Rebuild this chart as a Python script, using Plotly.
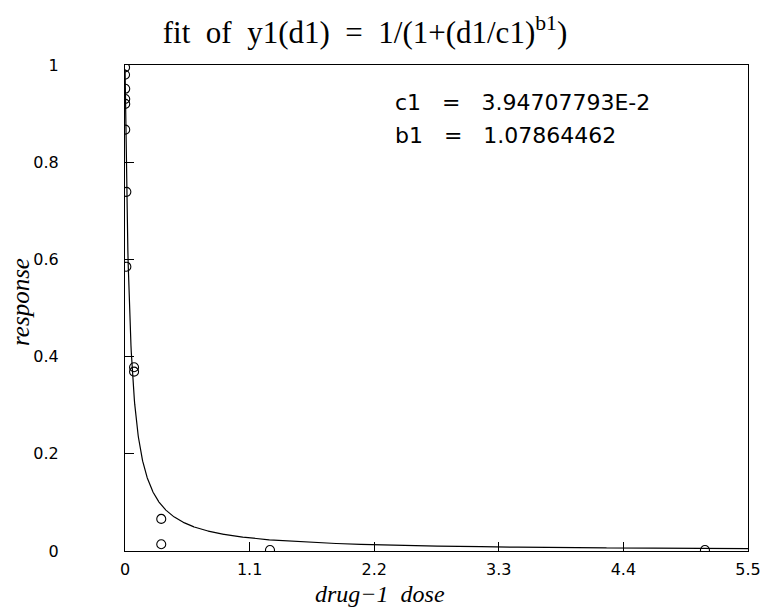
import numpy as np
import plotly.graph_objects as go

# data
dose = [0.0004, 0.0004, 0.002, 0.002, 0.002, 0.002, 0.012, 0.012, 0.08, 0.08, 0.32, 0.32, 1.28, 5.12]
resp = [0.995, 0.98, 0.951, 0.930, 0.920, 0.867, 0.739, 0.585, 0.378, 0.369, 0.066, 0.014, 0.002, 0.002]
c1 = 3.94707793e-2
b1 = 1.07864462
x_ticks = [0, 1.1, 2.2, 3.3, 4.4, 5.5]
x_tick_text = ["0", "1.1", "2.2", "3.3", "4.4", "5.5"]
y_ticks = [0, 0.2, 0.4, 0.6, 0.8, 1]
y_tick_text = ["0", "0.2", "0.4", "0.6", "0.8", "1"]

xc = np.linspace(0.0005, 5.5, 2000)
yc = 1.0 / (1.0 + (xc / c1) ** b1)

fig = go.Figure()
fig.add_trace(go.Scatter(x=xc, y=yc, mode="lines", line=dict(color="black", width=1.2),
                         showlegend=False, hoverinfo="skip"))
fig.add_trace(go.Scatter(x=dose, y=resp, mode="markers",
                         marker=dict(symbol="circle-open", size=9, color="black", line=dict(width=1.1)),
                         showlegend=False, cliponaxis=True))

tickfont = dict(family="DejaVu Sans", size=16, color="black")
L, R, T, B = 125, 27, 65, 58
pw = 775 - L - R
ph = 609 - T - B


def px(xp):
    return (xp - L) / pw


def py(yp):
    return 1 - (yp - T) / ph


fig.update_layout(
    width=775, height=609,
    margin=dict(l=L, r=R, t=T, b=B),
    paper_bgcolor="white", plot_bgcolor="white",
    title=dict(text="fit  of  y1(d1)  =  1/(1+(d1/c1)<sup>b1</sup>)",
               font=dict(family="Liberation Serif", size=31, color="black"),
               x=365/775, xanchor="center", y=1 - 32/609, yanchor="middle"),
    xaxis=dict(range=[0, 5.5], tickmode="array", tickvals=x_ticks, ticktext=x_tick_text,
               ticks="inside", ticklen=9, tickcolor="black", tickwidth=1,
               showline=True, linecolor="black", linewidth=1, mirror=True,
               showgrid=False, zeroline=False, tickfont=tickfont, ticklabelstandoff=4),
    yaxis=dict(range=[0, 1], tickmode="array", tickvals=y_ticks, ticktext=y_tick_text,
               ticks="inside", ticklen=9, tickcolor="black", tickwidth=1,
               showline=True, linecolor="black", linewidth=1, mirror=True,
               showgrid=False, zeroline=False, tickfont=tickfont, ticklabelstandoff=62),
    annotations=[
        dict(text="c1   =   3.94707793E-2", x=px(393), y=py(103), xref="paper", yref="paper",
             showarrow=False, font=dict(family="DejaVu Sans", size=22, color="black"),
             xanchor="left", yanchor="middle"),
        dict(text="b1   =   1.07864462", x=px(393), y=py(135), xref="paper", yref="paper",
             showarrow=False, font=dict(family="DejaVu Sans", size=22, color="black"),
             xanchor="left", yanchor="middle"),
        dict(text="<i>drug−1  dose</i>", x=px(380), y=py(594), xref="paper", yref="paper",
             showarrow=False, font=dict(family="Liberation Serif", size=24, color="black"),
             xanchor="center", yanchor="middle"),
        dict(text="<i>response</i>", x=px(20), y=py(302), xref="paper", yref="paper",
             showarrow=False, font=dict(family="Liberation Serif", size=25, color="black"),
             xanchor="center", yanchor="middle", textangle=-90),
    ],
)

fig.write_html("out.html")
